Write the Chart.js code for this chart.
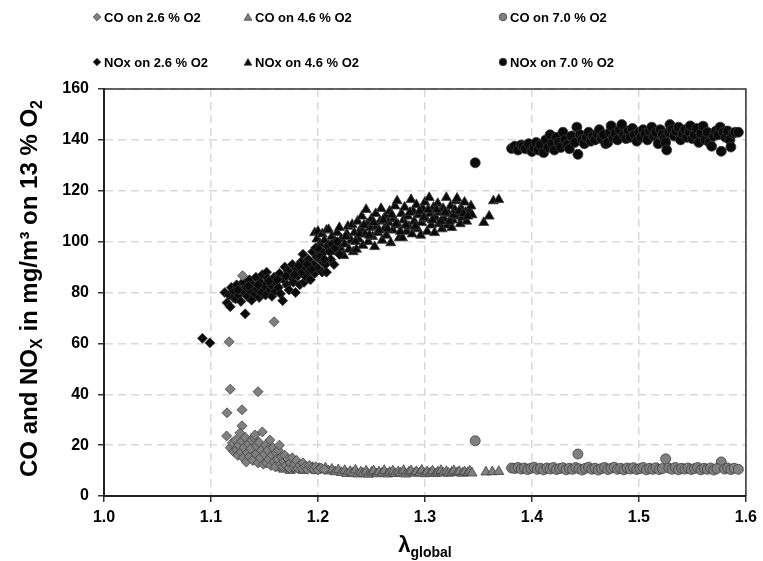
<!DOCTYPE html>
<html>
<head>
<meta charset="utf-8">
<script src="https://cdn.jsdelivr.net/npm/chart.js@4/dist/chart.umd.min.js"></script>
<style>
html,body{margin:0;padding:0;background:#fff;}
#wrap{width:763px;height:561px;}
</style>
</head>
<body>
<div id="wrap"><canvas id="c" width="763" height="561"></canvas></div>
<script>
// ---- data: [lambda_global, mg/m3] ----
const seriesNames = ["CO on 2.6 % O2","CO on 4.6 % O2","CO on 7.0 % O2","NOx on 2.6 % O2","NOx on 4.6 % O2","NOx on 7.0 % O2"];
const xTicks = [1.0,1.1,1.2,1.3,1.4,1.5,1.6];
const yTicks = [0,20,40,60,80,100,120,140,160];

const co26 = [[1.1295,86.6],[1.159,68.5],[1.117,60.6],[1.118,42],[1.144,41],[1.115,32.7],[1.129,33.9],[1.129,27.6],[1.1146,23.6],[1.127,24.8],
[1.118,19],[1.12,20.9],[1.121,17.5],[1.123,22],[1.124,18.1],[1.125,16],[1.126,20],[1.128,17.3],[1.129,21.5],[1.13,15],[1.131,19],[1.132,23],[1.133,13.4],[1.134,17],[1.135,20.5],[1.136,15.5],[1.137,18.5],[1.138,22],[1.139,14],[1.14,23],[1.141,24],[1.142,16.5],[1.143,19.5],[1.144,13],[1.145,21],[1.146,15],[1.147,18],[1.148,25.2],[1.149,12.5],[1.15,16.5],[1.151,20],[1.152,13],[1.153,18],[1.154,14.5],[1.155,22],[1.156,12],[1.157,16],[1.158,19],[1.159,13.5],[1.16,11.5],[1.161,17],[1.162,14.5],[1.163,18],[1.164,20],[1.165,12.5],[1.166,15.5],[1.167,11.5],[1.168,13.5],[1.169,16],[1.17,12],[1.172,14.5],[1.173,11],[1.174,13],[1.176,15],[1.177,11.5],[1.178,12.5],[1.18,14],[1.181,11],[1.183,12],[1.185,10.8],[1.186,13],[1.188,11.5],[1.19,10.5],[1.192,12],[1.194,11],[1.196,10.5],[1.198,11.5],[1.2,10.2],[1.203,11],[1.206,10.5]];

const co46 = [[1.165,11],[1.168,10.5],[1.171,11.5],[1.174,10],[1.177,11],[1.18,10.5],[1.183,11.5],[1.186,10],[1.189,11],[1.192,10.5],[1.195,11.2],[1.198,10],[1.201,10.8],[1.204,10.2],[1.207,11],[1.21,9.8],[1.213,10.5],[1.216,9.5],[1.219,10.3],[1.222,9.2],[1.225,10],[1.227,8.8],[1.23,9.6],[1.232,9],[1.235,10.2],[1.237,8.6],[1.24,9.4],[1.242,8.9],[1.245,9.8],[1.247,8.5],[1.25,9.3],[1.252,9.9],[1.255,8.7],[1.257,9.5],[1.26,9],[1.262,10],[1.265,8.6],[1.267,9.3],[1.27,9.8],[1.272,8.8],[1.275,9.5],[1.277,9],[1.28,10],[1.282,8.6],[1.285,9.4],[1.287,9.9],[1.29,8.9],[1.292,9.6],[1.295,9.1],[1.297,10.1],[1.3,8.7],[1.302,9.5],[1.305,9],[1.307,9.8],[1.31,8.8],[1.312,9.4],[1.315,10],[1.317,9],[1.32,9.6],[1.322,8.9],[1.325,9.3],[1.327,9.9],[1.33,9.1],[1.332,9.6],[1.335,8.9],[1.337,9.5],[1.34,9.2],[1.342,9.8],[1.344,9],[1.357,9.4],[1.363,9.5],[1.369,9.6]];

const co70 = [[1.347,21.7],[1.443,16.5],[1.525,14.6],[1.577,13.4],
[1.381,11],[1.384,10.8],[1.387,11.2],[1.39,10.6],[1.393,11],[1.396,10.4],[1.399,10.9],[1.402,11.3],[1.405,10.5],[1.408,10.9],[1.411,10.3],[1.414,11],[1.417,10.6],[1.42,11.2],[1.423,10.4],[1.426,10.8],[1.429,11.1],[1.432,10.3],[1.435,10.9],[1.438,10.5],[1.441,11.2],[1.444,10.7],[1.447,10.2],[1.45,10.9],[1.453,11.3],[1.456,10.5],[1.459,10.9],[1.462,10.2],[1.465,10.8],[1.468,11.2],[1.471,10.4],[1.474,10.9],[1.477,11.3],[1.48,10.5],[1.483,10.9],[1.486,10.3],[1.489,11],[1.492,10.6],[1.495,11.1],[1.498,10.4],[1.501,10.8],[1.504,11.2],[1.507,10.3],[1.51,10.9],[1.513,10.5],[1.516,11.1],[1.519,10.4],[1.522,10.8],[1.528,11],[1.531,10.5],[1.534,11.2],[1.537,10.3],[1.54,10.9],[1.543,10.6],[1.546,11],[1.549,10.4],[1.552,10.8],[1.555,11.2],[1.558,10.3],[1.561,10.9],[1.564,10.5],[1.567,11],[1.57,10.2],[1.573,10.8],[1.58,10.6],[1.583,11],[1.586,10.4],[1.589,10.9],[1.593,10.5]];

const nox26 = [[1.092,62],[1.099,60.2],[1.113,80],[1.115,76],[1.117,79],[1.118,74.4],[1.119,82],[1.121,78],[1.122,80.5],[1.123,77.5],[1.124,83],[1.126,79],[1.127,81],[1.128,76.5],[1.13,84],[1.131,80],[1.132,71.6],[1.133,82],[1.134,78.5],[1.136,85],[1.137,80.5],[1.138,77],[1.139,83],[1.141,79.5],[1.142,86],[1.143,81.5],[1.145,78],[1.146,84],[1.147,80],[1.148,87],[1.15,82.5],[1.151,79],[1.152,88],[1.153,85.5],[1.155,81],[1.156,83],[1.157,78.5],[1.159,86],[1.16,80.5],[1.161,84],[1.163,82],[1.164,87.5],[1.165,79.5],[1.167,76.8],[1.168,85],[1.169,90],[1.171,83],[1.172,88.5],[1.173,81],[1.175,86],[1.176,91],[1.177,84],[1.179,80],[1.18,89],[1.181,86.5],[1.183,83],[1.184,92],[1.185,88],[1.186,95],[1.187,84],[1.188,90],[1.189,86],[1.191,93],[1.192,88.5],[1.193,85],[1.195,96],[1.196,91],[1.197,87.5],[1.198,97.6],[1.199,94],[1.2,89.5],[1.201,97],[1.203,92.5],[1.204,88],[1.205,95.5],[1.207,91],[1.208,88],[1.209,98],[1.21,98.8],[1.211,96],[1.212,93],[1.213,99],[1.215,91],[1.216,97.5],[1.218,100],[1.22,95],
[1.125,81],[1.135,82.5],[1.144,83],[1.154,84.5],[1.162,85],[1.17,86.5],[1.178,87],[1.182,90.5],[1.19,91],[1.194,89],[1.202,94],[1.206,93]];

const nox46 = [[1.197,103.5],[1.199,101],[1.2,104],[1.202,99],[1.204,103],[1.206,100.5],[1.208,104.5],[1.21,104.7],[1.211,98],[1.213,102],[1.215,96],[1.216,100],[1.218,103.5],[1.22,105.5],[1.221,97.5],[1.222,101],[1.224,94.5],[1.225,99],[1.227,103],[1.228,106],[1.229,97],[1.231,100.5],[1.232,106.7],[1.233,96],[1.234,103.5],[1.236,97],[1.237,108],[1.238,101],[1.24,105],[1.241,110],[1.242,98.5],[1.244,103],[1.245,112.6],[1.246,107],[1.247,100],[1.249,105.5],[1.25,109],[1.251,102],[1.253,98],[1.254,111],[1.255,106],[1.256,103.5],[1.258,108],[1.259,113],[1.26,100.5],[1.262,105],[1.263,110],[1.264,102.5],[1.266,107.5],[1.267,112],[1.268,99.5],[1.27,104.5],[1.271,109],[1.272,114],[1.274,116],[1.275,106.5],[1.276,101.5],[1.278,111],[1.279,101.5],[1.28,108.5],[1.281,113.5],[1.283,104],[1.284,110],[1.285,106],[1.287,116.5],[1.288,103],[1.289,112],[1.29,108],[1.292,114.5],[1.293,105],[1.294,110.5],[1.296,102.5],[1.297,107.5],[1.298,113],[1.3,115.5],[1.301,109],[1.302,104],[1.304,117.3],[1.305,111],[1.306,106.5],[1.308,113.5],[1.309,103.5],[1.31,109.5],[1.312,115],[1.313,107],[1.314,111.5],[1.316,105],[1.317,113],[1.318,109],[1.32,117.3],[1.321,106.5],[1.322,111],[1.324,114],[1.325,105.5],[1.326,108.5],[1.328,112.5],[1.329,116],[1.33,117],[1.331,110],[1.333,107],[1.334,113],[1.335,109.5],[1.337,115.5],[1.338,111.5],[1.339,108],[1.341,112],[1.343,114],[1.344,110.5],[1.355,107.5],[1.36,110],[1.364,116],[1.369,116.5],
[1.226,102],[1.235,100],[1.239,103],[1.243,106.5],[1.248,102.5],[1.252,107.5],[1.257,104.5],[1.261,108.5],[1.265,105],[1.269,110.5],[1.273,107],[1.277,104],[1.282,106.5],[1.286,111.5],[1.291,106],[1.295,112],[1.299,109.5],[1.303,112.5],[1.307,108.5],[1.311,112.5],[1.315,108],[1.319,111.5],[1.323,108],[1.327,110.5],[1.332,112],[1.336,111],[1.34,110]];

const nox70 = [[1.347,131],[1.381,136.6],[1.384,137.5],[1.387,136],[1.39,138],[1.392,137.4],[1.394,136.5],[1.397,138.5],[1.4,135.4],[1.402,137],[1.404,139],[1.406,136],[1.408,138],[1.411,135],[1.413,140],[1.415,137],[1.417,142],[1.419,138.5],[1.421,136],[1.423,141],[1.425,139],[1.427,137],[1.429,143],[1.431,140],[1.433,138],[1.435,136.5],[1.437,141.5],[1.44,139],[1.442,145],[1.443,134.3],[1.445,142],[1.447,140],[1.449,138.5],[1.451,141],[1.453,143],[1.455,139.5],[1.457,141.5],[1.459,140],[1.461,142.5],[1.463,144],[1.465,140.5],[1.467,142],[1.469,138.5],[1.471,139],[1.473,143],[1.474,145.5],[1.476,141],[1.478,142.5],[1.48,140],[1.482,144],[1.484,146],[1.486,142],[1.488,140.5],[1.49,143.5],[1.492,141],[1.494,144.5],[1.496,142],[1.498,139.5],[1.5,143],[1.502,141],[1.504,144],[1.506,142.5],[1.508,140],[1.51,143.5],[1.512,145],[1.514,141.5],[1.516,143],[1.518,138.5],[1.52,144],[1.522,142],[1.524,140.5],[1.525,139],[1.526,136],[1.528,143],[1.529,146],[1.531,144],[1.533,141.5],[1.535,143.5],[1.537,145],[1.539,140],[1.541,142.5],[1.543,144],[1.545,141],[1.547,143],[1.548,145.5],[1.55,140.5],[1.552,142],[1.554,144.5],[1.556,139],[1.558,142.5],[1.56,145.4],[1.562,140],[1.564,143],[1.566,139],[1.568,137.5],[1.57,141.5],[1.572,143.5],[1.574,142],[1.576,145],[1.577,135.5],[1.579,143],[1.581,141],[1.583,143.5],[1.585,140],[1.586,137.2],[1.588,142.5],[1.59,143],[1.593,143]];

// ---- styling ----
const GREY = '#808080', GREY_B = '#3f3f3f', BLACK = '#0a0a0a', BLACK_B = '#3a3a3a';
const FONT = "'Liberation Sans', Arial, sans-serif";
const styles = [
  {data: co26, style:'rectRot', r:5, bg:GREY, bd:GREY_B},
  {data: co46, style:'triangle', r:5.8, bg:GREY, bd:GREY_B},
  {data: co70, style:'circle', r:5, bg:GREY, bd:GREY_B},
  {data: nox26, style:'rectRot', r:5, bg:BLACK, bd:BLACK_B},
  {data: nox46, style:'triangle', r:5.8, bg:BLACK, bd:BLACK_B},
  {data: nox70, style:'circle', r:5, bg:BLACK, bd:BLACK_B}
];
const toXY = arr => arr.map(p => ({x:p[0], y:p[1]}));
const datasets = styles.map((s,i) => ({
  label: seriesNames[i], data: toXY(s.data),
  pointStyle: s.style, pointRadius: s.r, pointBackgroundColor: s.bg,
  pointBorderColor: s.bd, pointBorderWidth: 0.8, showLine: false
}));

// legend + titles + frame plugin
const decor = {
  id: 'decor',
  afterDraw(chart) {
    const ctx = chart.ctx, a = chart.chartArea;
    ctx.save();
    // top and right frame
    ctx.strokeStyle = '#333'; ctx.lineWidth = 1.5;
    ctx.beginPath(); ctx.moveTo(a.left, a.top); ctx.lineTo(a.right, a.top); ctx.lineTo(a.right, a.bottom); ctx.stroke();

    // legend
    const cols = [97, 248, 503], rows = [17, 62];
    ctx.font = 'bold 13px ' + FONT; ctx.textBaseline = 'middle'; ctx.textAlign = 'left'; ctx.fillStyle = '#000';
    seriesNames.forEach((name, i) => {
      const cx = cols[i % 3], cy = rows[Math.floor(i / 3)], s = styles[i];
      ctx.fillStyle = s.bg; ctx.strokeStyle = s.bd; ctx.lineWidth = 0.8;
      Chart.helpers.drawPoint(ctx, {pointStyle: s.style, radius: s.style === 'triangle' ? 4.4 : 3.8, borderWidth: 0.8, rotation: 0}, cx, cy + (s.style === 'triangle' ? 1 : 0));
      ctx.fillStyle = '#000';
      ctx.fillText(name, cx + 7, cy + 1);
    });

    // y title with subscripts
    const parts = [
      ['CO and NO', 24, 0], ['X', 16, 5], [' in mg/m³ on 13 % O', 24, 0], ['2', 16, 5]
    ];
    let total = 0;
    parts.forEach(p => { ctx.font = 'bold ' + p[1] + 'px ' + FONT; total += ctx.measureText(p[0]).width; });
    ctx.translate(37, (a.top + a.bottom) / 2 - 4);
    ctx.rotate(-Math.PI / 2);
    ctx.textBaseline = 'alphabetic'; ctx.fillStyle = '#000';
    let x = -total / 2;
    parts.forEach(p => { ctx.font = 'bold ' + p[1] + 'px ' + FONT; ctx.fillText(p[0], x, p[2]); x += ctx.measureText(p[0]).width; });
    ctx.setTransform(1, 0, 0, 1, 0, 0);

    // x title
    const xp = [['λ', 22, 0], ['global', 14, 5]];
    total = 0;
    xp.forEach(p => { ctx.font = 'bold ' + p[1] + 'px ' + FONT; total += ctx.measureText(p[0]).width; });
    x = (a.left + a.right) / 2 - total / 2;
    xp.forEach(p => { ctx.font = 'bold ' + p[1] + 'px ' + FONT; ctx.fillText(p[0], x, 552 + p[2]); x += ctx.measureText(p[0]).width; });
    ctx.restore();
  }
};

const axisCommon = {
  grid: {color: '#d9d9d9', lineWidth: 1.5, tickColor: '#333', tickLength: 6, tickWidth: 1.5},
  border: {color: '#222', width: 2, dash: [8, 5]}
};

new Chart(document.getElementById('c'), {
  type: 'scatter',
  data: {datasets},
  options: {
    responsive: false, animation: false, events: [],
    layout: {padding: {left: 0, right: 15, top: 89, bottom: 0}},
    plugins: {legend: {display: false}, tooltip: {enabled: false}},
    scales: {
      x: Object.assign({}, axisCommon, {
        type: 'linear', min: xTicks[0], max: xTicks[xTicks.length - 1],
        afterBuildTicks: s => { s.ticks = xTicks.map(v => ({value: v})); },
        afterFit: s => { s.height = 65; },
        ticks: {color: '#000', font: {family: FONT, size: 16, weight: 'bold'}, padding: 6, callback: v => Number(v).toFixed(1)}
      }),
      y: Object.assign({}, axisCommon, {
        type: 'linear', min: yTicks[0], max: yTicks[yTicks.length - 1],
        afterBuildTicks: s => { s.ticks = yTicks.map(v => ({value: v})); },
        afterFit: s => { s.width = 104; },
        ticks: {color: '#000', font: {family: FONT, size: 16, weight: 'bold'}, padding: 9}
      })
    }
  },
  plugins: [decor]
});
</script>
</body>
</html>
